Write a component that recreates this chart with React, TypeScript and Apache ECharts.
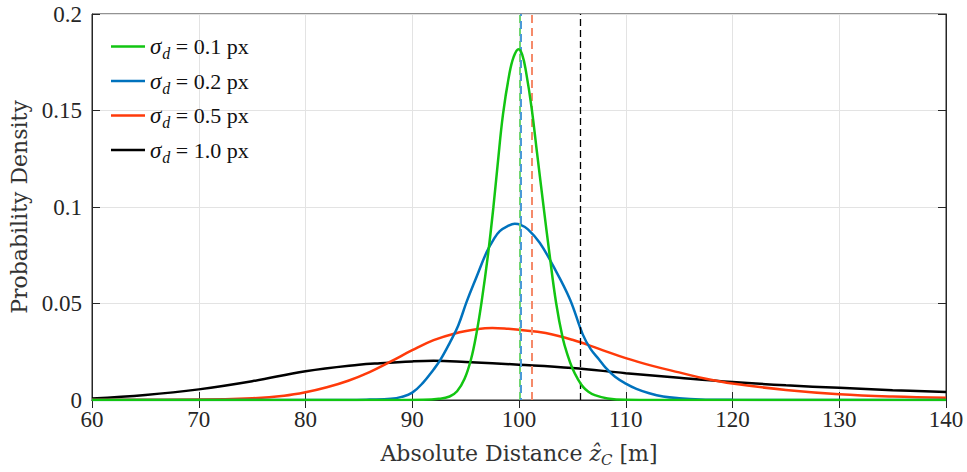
import React, { useEffect, useRef } from "react";
import * as echarts from "echarts";

const xTicks = [60, 70, 80, 90, 100, 110, 120, 130, 140];

const legendLabels = ["0.1", "0.2", "0.5", "1.0"];

const greenData: number[][] = [
  [60, 0], [88, 0], [91, 0.0001], [92.5, 0.0006], [93.5, 0.0018], [94.2, 0.0045],
  [94.9, 0.011], [95.5, 0.021], [96.0, 0.034], [96.5, 0.051], [97.1, 0.0755],
  [97.6, 0.0998], [98.0, 0.122], [98.5, 0.148], [99.1, 0.169], [99.5, 0.1778],
  [99.95, 0.1818], [100.3, 0.179], [100.66, 0.170], [101.19, 0.151],
  [101.69, 0.128], [102.31, 0.0998], [102.85, 0.076], [103.47, 0.0505],
  [104.1, 0.032], [104.6, 0.0225], [105.0, 0.0165], [105.5, 0.011],
  [106.0, 0.0068], [106.5, 0.0043], [107.1, 0.0025], [108.3, 0.0008],
  [110, 0.0001], [113, 0], [140, 0],
];

const blueData: number[][] = [
  [60, 0], [84, 0], [86, 0.0002], [88, 0.0006], [89, 0.0016], [90, 0.0038],
  [91, 0.0089], [92, 0.0158], [92.6, 0.0205], [93.5, 0.0295], [94.3, 0.0385],
  [95.1, 0.051], [96.0, 0.0635], [96.95, 0.0764], [97.6, 0.083], [98.2, 0.0875],
  [99.0, 0.0903], [99.6, 0.0913], [100.2, 0.0906], [100.84, 0.0884],
  [101.94, 0.0815], [103.19, 0.0696], [104.75, 0.0525], [105.97, 0.034],
  [106.7, 0.0265], [107.5, 0.021], [108.15, 0.0165], [109, 0.012], [110, 0.0085],
  [111, 0.0058], [112.2, 0.0035], [113.5, 0.0018], [115, 0.0009], [117, 0.0003],
  [120, 0.0001], [125, 0], [140, 0],
];

const redData: number[][] = [
  [60, 0.0001], [70, 0.0002], [75, 0.0009], [78, 0.0022], [80, 0.004],
  [82, 0.0066], [84, 0.010], [86, 0.0145], [88, 0.020], [90, 0.0258],
  [92, 0.031], [94, 0.0345], [96, 0.0366], [97.5, 0.0373], [99, 0.0369],
  [100, 0.0364], [102.5, 0.0347], [105, 0.0312], [107.5, 0.0265], [110, 0.0217],
  [112.5, 0.0177], [115, 0.0143], [117.5, 0.011], [120, 0.0085], [125, 0.0052],
  [130, 0.003], [135, 0.0018], [140, 0.0012],
];

const blackData: number[][] = [
  [60, 0.0008], [65, 0.0026], [70, 0.0055], [75, 0.0097], [80, 0.0149],
  [85, 0.0183], [87, 0.0191], [90, 0.02], [92, 0.0203], [95, 0.0197],
  [100, 0.0183], [105, 0.0166], [110, 0.0139], [115, 0.0115], [120, 0.0093],
  [125, 0.0076], [130, 0.0063], [135, 0.0051], [140, 0.0041],
];

const meanMarks = [100.05, 100.15, 101.2, 105.7];

const lineColors = ["#12c512", "#0072bd", "#ff3a0a", "#000000"];
const markColors = ["#6fd66f", "#4a9ad6", "#f58a6a", "#000000"];

const TICK_FONT = "'Liberation Serif', serif";
const NAME_FONT = "'DejaVu Serif', serif";

export default function App() {
  const ref = useRef<HTMLDivElement>(null);
  useEffect(() => {
    if (!ref.current) return;
    const chart = echarts.init(ref.current, undefined, { renderer: "svg" });
    const datasets = [greenData, blueData, redData, blackData];
    const names = legendLabels.map((l) => `σd = ${l} px`);
    const series = datasets.map((d, i) => ({
      name: names[i],
      type: "line",
      data: d,
      smooth: 0.4,
      symbol: "none",
      z: i === 0 ? 6 : 5 - i,
      lineStyle: { color: lineColors[i], width: 2.5 },
      itemStyle: { color: lineColors[i] },
      markLine: {
        silent: true,
        symbol: "none",
        label: { show: false },
        lineStyle: {
          color: markColors[i],
          type: i === 3 ? [7, 4] : [8, 5],
          width: i === 3 ? 1.3 : 2,
          dashOffset: i === 1 ? 6 : 0,
        },
        data: [{ xAxis: meanMarks[i] }],
      },
    }));
    chart.setOption({
      animation: false,
      textStyle: { fontFamily: TICK_FONT },
      grid: {
        left: 92,
        right: 21,
        top: 14,
        bottom: 68,
        show: true,
        borderColor: "#262626",
        borderWidth: 1,
      },
      legend: {
        orient: "vertical",
        left: 106,
        top: 30,
        itemWidth: 34,
        itemHeight: 14,
        itemGap: 8,
        icon: "path://M0,6 L34,6 L34,8.5 L0,8.5 Z",
        formatter: (name: string) => {
          const v = name.replace("σd = ", "");
          return `{s|σ}{d|d}{t| = ${v}}`;
        },
        textStyle: {
          fontFamily: TICK_FONT,
          color: "#111",
          rich: {
            s: { fontSize: 23, fontStyle: "italic", fontFamily: TICK_FONT, color: "#111" },
            d: {
              fontSize: 16,
              fontStyle: "italic",
              fontFamily: TICK_FONT,
              color: "#111",
              padding: [14, 0, 0, 1],
            },
            t: { fontSize: 22, fontFamily: TICK_FONT, color: "#111" },
          },
        },
        data: names.map((n, i) => ({ name: n, itemStyle: { color: lineColors[i] } })),
      },
      xAxis: [
        {
          type: "value",
          min: xTicks[0],
          max: xTicks[xTicks.length - 1],
          interval: 10,
          name: "Absolute Distance {i|ẑ}{sub|C} [m]",
          nameLocation: "middle",
          nameGap: 40,
          nameTextStyle: {
            fontSize: 22,
            fontFamily: NAME_FONT,
            color: "#333",
            rich: {
              i: { fontSize: 22, fontStyle: "italic", fontFamily: NAME_FONT, color: "#333" },
              sub: {
                fontSize: 15,
                fontStyle: "italic",
                fontFamily: NAME_FONT,
                color: "#333",
                padding: [12, 0, 0, 0],
              },
            },
          },
          axisLine: { show: true, lineStyle: { color: "#262626" } },
          axisTick: { show: true, inside: true, length: 8, lineStyle: { color: "#262626" } },
          axisLabel: { fontSize: 23, color: "#262626", fontFamily: TICK_FONT, margin: 8 },
          splitLine: { show: true, lineStyle: { color: "#e3e3e3", width: 1 } },
        },
        {
          type: "value",
          position: "top",
          min: xTicks[0],
          max: xTicks[xTicks.length - 1],
          interval: 10,
          axisLine: { show: true, lineStyle: { color: "#262626" } },
          axisTick: { show: true, inside: true, length: 8, lineStyle: { color: "#262626" } },
          axisLabel: { show: false },
          splitLine: { show: false },
        },
      ],
      yAxis: [
        {
          type: "value",
          min: 0,
          max: 0.2,
          interval: 0.05,
          name: "Probability Density",
          nameLocation: "middle",
          nameGap: 62,
          nameTextStyle: { fontSize: 22, fontFamily: NAME_FONT, color: "#333" },
          axisLine: { show: true, lineStyle: { color: "#262626" } },
          axisTick: { show: true, inside: true, length: 8, lineStyle: { color: "#262626" } },
          axisLabel: { fontSize: 23, color: "#262626", fontFamily: TICK_FONT, margin: 10 },
          splitLine: { show: true, lineStyle: { color: "#e3e3e3", width: 1 } },
        },
        {
          type: "value",
          position: "right",
          min: 0,
          max: 0.2,
          interval: 0.05,
          axisLine: { show: true, lineStyle: { color: "#262626" } },
          axisTick: { show: true, inside: true, length: 8, lineStyle: { color: "#262626" } },
          axisLabel: { show: false },
          splitLine: { show: false },
        },
      ],
      series,
    });
    return () => chart.dispose();
  }, []);
  return (
    <div
      ref={ref}
      style={{ position: "fixed", left: 0, top: 0, width: 967, height: 472, background: "#fff" }}
    />
  );
}
